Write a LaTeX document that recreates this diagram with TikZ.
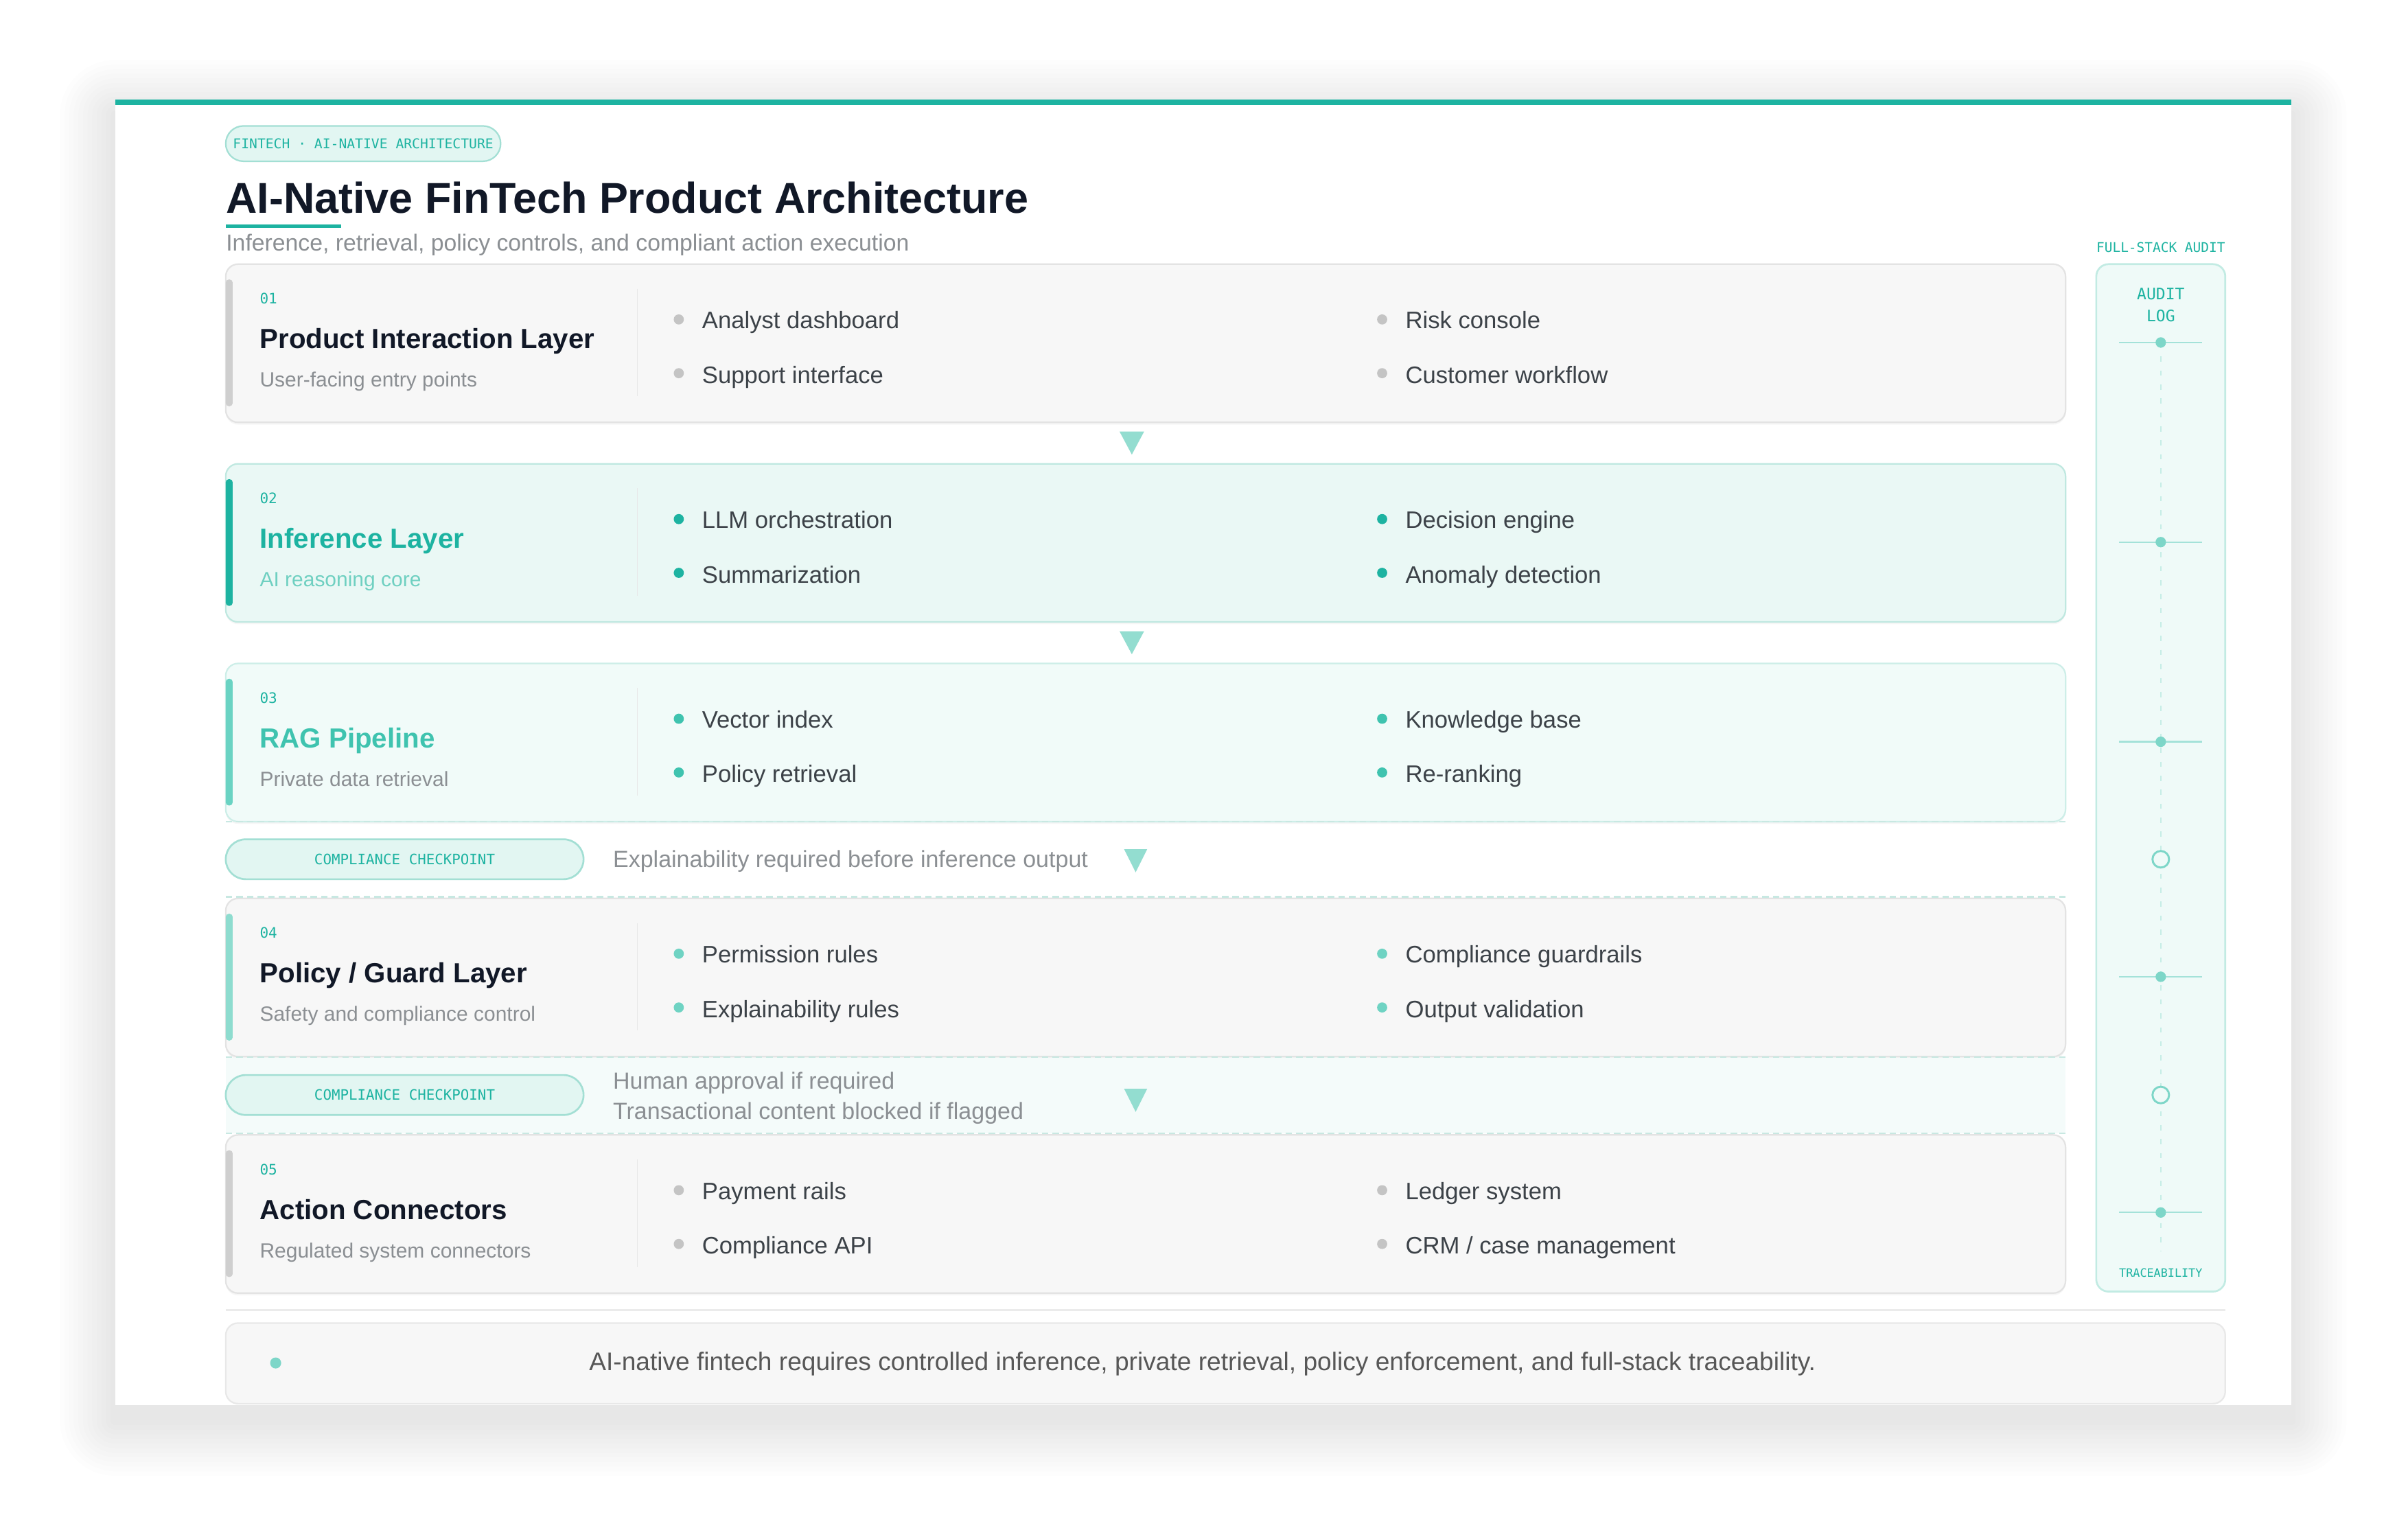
\documentclass[tikz,border=0pt]{standalone}
\usepackage{fontspec}
\setmainfont{Liberation Sans}
\newfontfamily\labelmono{DejaVu Sans Mono}

\definecolor{brandteal}{HTML}{1DB3A1}
\definecolor{inktext}{HTML}{111827}
\definecolor{bodytext}{HTML}{3C4248}
\definecolor{mutedtext}{HTML}{8B8F93}
\definecolor{pillfill}{HTML}{E2F6F2}
\definecolor{pillline}{HTML}{A3DFD4}
\definecolor{tricolor}{HTML}{93DDD0}
\definecolor{bandfill}{HTML}{F4FBFA}
\definecolor{bandline}{HTML}{C8E8E2}
\definecolor{auditfill}{HTML}{EFFAF8}
\definecolor{auditline}{HTML}{C2EBE3}
\definecolor{auditmark}{HTML}{7DD6C8}
% layer colours
\definecolor{L1fill}{HTML}{F7F7F7}\definecolor{L1line}{HTML}{E3E3E3}\definecolor{L1bar}{HTML}{CFCFCF}
\definecolor{L1title}{HTML}{111827}\definecolor{L1sub}{HTML}{8B8F93}\definecolor{L1dot}{HTML}{C4C4C4}
\definecolor{L2fill}{HTML}{EAF8F5}\definecolor{L2line}{HTML}{BFE8E0}\definecolor{L2bar}{HTML}{1DB3A1}
\definecolor{L2title}{HTML}{1DB3A1}\definecolor{L2sub}{HTML}{6FD0C1}\definecolor{L2dot}{HTML}{1DB3A1}
\definecolor{L3fill}{HTML}{F1FBF9}\definecolor{L3line}{HTML}{CDEEE8}\definecolor{L3bar}{HTML}{6AD3C3}
\definecolor{L3title}{HTML}{3FC3AF}\definecolor{L3sub}{HTML}{8B8F93}\definecolor{L3dot}{HTML}{3FC3AF}
\definecolor{L4fill}{HTML}{F7F7F7}\definecolor{L4line}{HTML}{E3E3E3}\definecolor{L4bar}{HTML}{8EDCCF}
\definecolor{L4title}{HTML}{111827}\definecolor{L4sub}{HTML}{8B8F93}\definecolor{L4dot}{HTML}{6FD3C3}
\definecolor{L5fill}{HTML}{F7F7F7}\definecolor{L5line}{HTML}{E3E3E3}\definecolor{L5bar}{HTML}{CFCFCF}
\definecolor{L5title}{HTML}{111827}\definecolor{L5sub}{HTML}{8B8F93}\definecolor{L5dot}{HTML}{C4C4C4}

\tikzset{
  layernum/.style={anchor=base west,inner sep=0pt,text=brandteal,font=\labelmono\fontsize{9.4}{11}\selectfont},
  layertitle/.style={anchor=base west,inner sep=0pt,font=\bfseries\fontsize{18}{21}\selectfont},
  layersub/.style={anchor=base west,inner sep=0pt,font=\fontsize{13.4}{16}\selectfont},
  bullettext/.style={anchor=base west,inner sep=0pt,text=bodytext,font=\fontsize{15.5}{18}\selectfont},
  bandtext/.style={anchor=base west,inner sep=0pt,text=mutedtext,font=\fontsize{15.2}{18}\selectfont},
  divider/.style={draw=black!9,line width=.8pt},
  checkpill/.style={draw=pillline,fill=pillfill,line width=1.2pt,rounded corners=13pt,
    minimum width=233pt,minimum height=26pt,inner sep=0pt,text=brandteal,
    font=\labelmono\fontsize{9.3}{11}\selectfont},
  tri/.style={fill=tricolor},
  bandrule/.style={draw=bandline,line width=1pt,dash pattern=on 4.3pt off 2.6pt},
  auditlabel/.style={inner sep=0pt,text=brandteal,align=center},
  audittick/.style={draw=auditmark!70,line width=1pt},
  auditdot/.style={fill=auditmark},
}

% one layer card: top, number, title, subtitle, four items, colour prefix
\newcommand\layercard[9]{%
  \fill[black,opacity=.035,rounded corners=8pt] (147,#1+1.5) rectangle (1345,#1+104.5);
  \draw[fill=#9fill,draw=#9line,line width=1pt,rounded corners=8pt] (147,#1) rectangle (1345,#1+103);
  \fill[#9bar,rounded corners=2pt] (147,#1+10) rectangle (151.5,#1+92.5);
  \draw[divider] (415,#1+16) -- (415,#1+86);
  \node[layernum] (num#2) at (169,#1+26) {#2};
  \node[layertitle,text=#9title] (title#2) at (169,#1+55) {#3};
  \node[layersub,text=#9sub] (sub#2) at (169,#1+80) {#4};
  \fill[#9dot] (442,#1+36) circle[radius=3.3pt] (442,#1+71) circle[radius=3.3pt]
    (900,#1+36) circle[radius=3.3pt] (900,#1+71) circle[radius=3.3pt];
  \node[bullettext] (item#2a) at (457,#1+42) {#5};
  \node[bullettext] (item#2b) at (457,#1+77.5) {#6};
  \node[bullettext] (item#2c) at (915,#1+42) {#7};
  \node[bullettext] (item#2d) at (915,#1+77.5) {#8};
}

\begin{document}
\begin{tikzpicture}[x=1pt,y=-1pt]
  \useasboundingbox (0,0) rectangle (1568,1002);
  \fill[white] (0,0) rectangle (1568,1002);
  % card and its soft shadow
  \foreach \s in {3,6,...,36}
    \fill[black,opacity=.006,rounded corners=\s pt] (75-\s,65-\s+10) rectangle (1492+\s,915+\s+10);
  \fill[white] (75,65) rectangle (1492,915);
  \fill[brandteal] (75,65) rectangle (1492,68.5);

  % heading
  \node[draw=pillline,fill=pillfill,line width=1pt,rounded corners=11.5pt,minimum width=179pt,
    minimum height=23pt,inner sep=0pt,text=brandteal,font=\labelmono\fontsize{8.8}{10}\selectfont]
    (tag) at (236.5,93.5) {FINTECH · AI-NATIVE ARCHITECTURE};
  \node[anchor=base west,inner sep=0pt,text=inktext,font=\bfseries\fontsize{28.1}{32}\selectfont]
    (heading) at (147,139) {AI-Native FinTech Product Architecture};
  \fill[brandteal] (147,146) rectangle (222,148.3);
  \node[anchor=base west,inner sep=0pt,text=mutedtext,font=\fontsize{15.1}{18}\selectfont]
    (subheading) at (147,163.5) {Inference, retrieval, policy controls, and compliant action execution};

  % layers
  \layercard{172}{01}{Product Interaction Layer}{User-facing entry points}
    {Analyst dashboard}{Support interface}{Risk console}{Customer workflow}{L1}
  \layercard{302}{02}{Inference Layer}{AI reasoning core}
    {LLM orchestration}{Summarization}{Decision engine}{Anomaly detection}{L2}
  \layercard{432}{03}{RAG Pipeline}{Private data retrieval}
    {Vector index}{Policy retrieval}{Knowledge base}{Re-ranking}{L3}
  \layercard{585}{04}{Policy / Guard Layer}{Safety and compliance control}
    {Permission rules}{Explainability rules}{Compliance guardrails}{Output validation}{L4}
  \layercard{739}{05}{Action Connectors}{Regulated system connectors}
    {Payment rails}{Compliance API}{Ledger system}{CRM / case management}{L5}

  % flow markers between layers
  \fill[tri] (729,281) -- (745,281) -- (737,296) -- cycle;
  \fill[tri] (729,411) -- (745,411) -- (737,426) -- cycle;

  % compliance checkpoints
  \draw[bandrule] (147,535) -- (1345,535);
  \draw[bandrule] (147,584) -- (1345,584);
  \node[checkpill] (check1) at (263.5,559.5) {COMPLIANCE CHECKPOINT};
  \node[bandtext] (check1note) at (399,564.7) {Explainability required before inference output};
  \fill[tri] (732,553) -- (747,553) -- (739.5,568) -- cycle;

  \fill[bandfill] (147,689) rectangle (1345,738);
  \draw[bandrule] (147,688.5) -- (1345,688.5);
  \draw[bandrule] (147,738) -- (1345,738);
  \node[checkpill] (check2) at (263.5,713) {COMPLIANCE CHECKPOINT};
  \node[bandtext] (check2note) at (399,709) {Human approval if required};
  \node[bandtext] (check2block) at (399,729) {Transactional content blocked if flagged};
  \fill[tri] (732,709) -- (747,709) -- (739.5,724) -- cycle;

  % audit column
  \node[auditlabel,font=\labelmono\fontsize{8.7}{10}\selectfont] (auditcap) at (1407,161) {FULL-STACK AUDIT};
  \draw[fill=auditfill,draw=auditline,line width=1.2pt,rounded corners=8pt] (1365,172) rectangle (1449,841);
  \node[auditlabel,font=\labelmono\fontsize{10.3}{14}\selectfont] (auditlog) at (1407,198.6) {AUDIT\\LOG};
  \coordinate (m1) at (1407,223);
  \coordinate (mend) at (1407,815);
  \draw[draw=auditmark!45,line width=1pt,dash pattern=on 3.4pt off 5.7pt] (m1) -- (mend);
  \foreach \y in {223,353,483,636,789.5} {
    \draw[audittick] (1380,\y) -- (1434,\y);
    \fill[auditdot] (1407,\y) circle[radius=3.4pt];
  }
  \foreach \y in {559.5,713}
    \draw[draw=auditmark,fill=auditfill,line width=1.3pt] (1407,\y) circle[radius=5.4pt];
  \node[auditlabel,font=\labelmono\fontsize{7.5}{9}\selectfont] (trace) at (1407,829) {TRACEABILITY};

  % footer
  \draw[draw=black!8,line width=1pt] (147,853) -- (1449,853);
  \draw[fill=L1fill,draw=black!9,line width=1pt,rounded corners=8pt] (147,861.5) rectangle (1449,914);
  \fill[auditmark] (179.5,887.5) circle[radius=3.6pt];
  \node[anchor=base,inner sep=0pt,text=black!66,font=\fontsize{16.6}{19}\selectfont] (summary) at (783,892.3)
    {AI-native fintech requires controlled inference, private retrieval, policy enforcement, and full-stack traceability.};
\end{tikzpicture}
\end{document}
